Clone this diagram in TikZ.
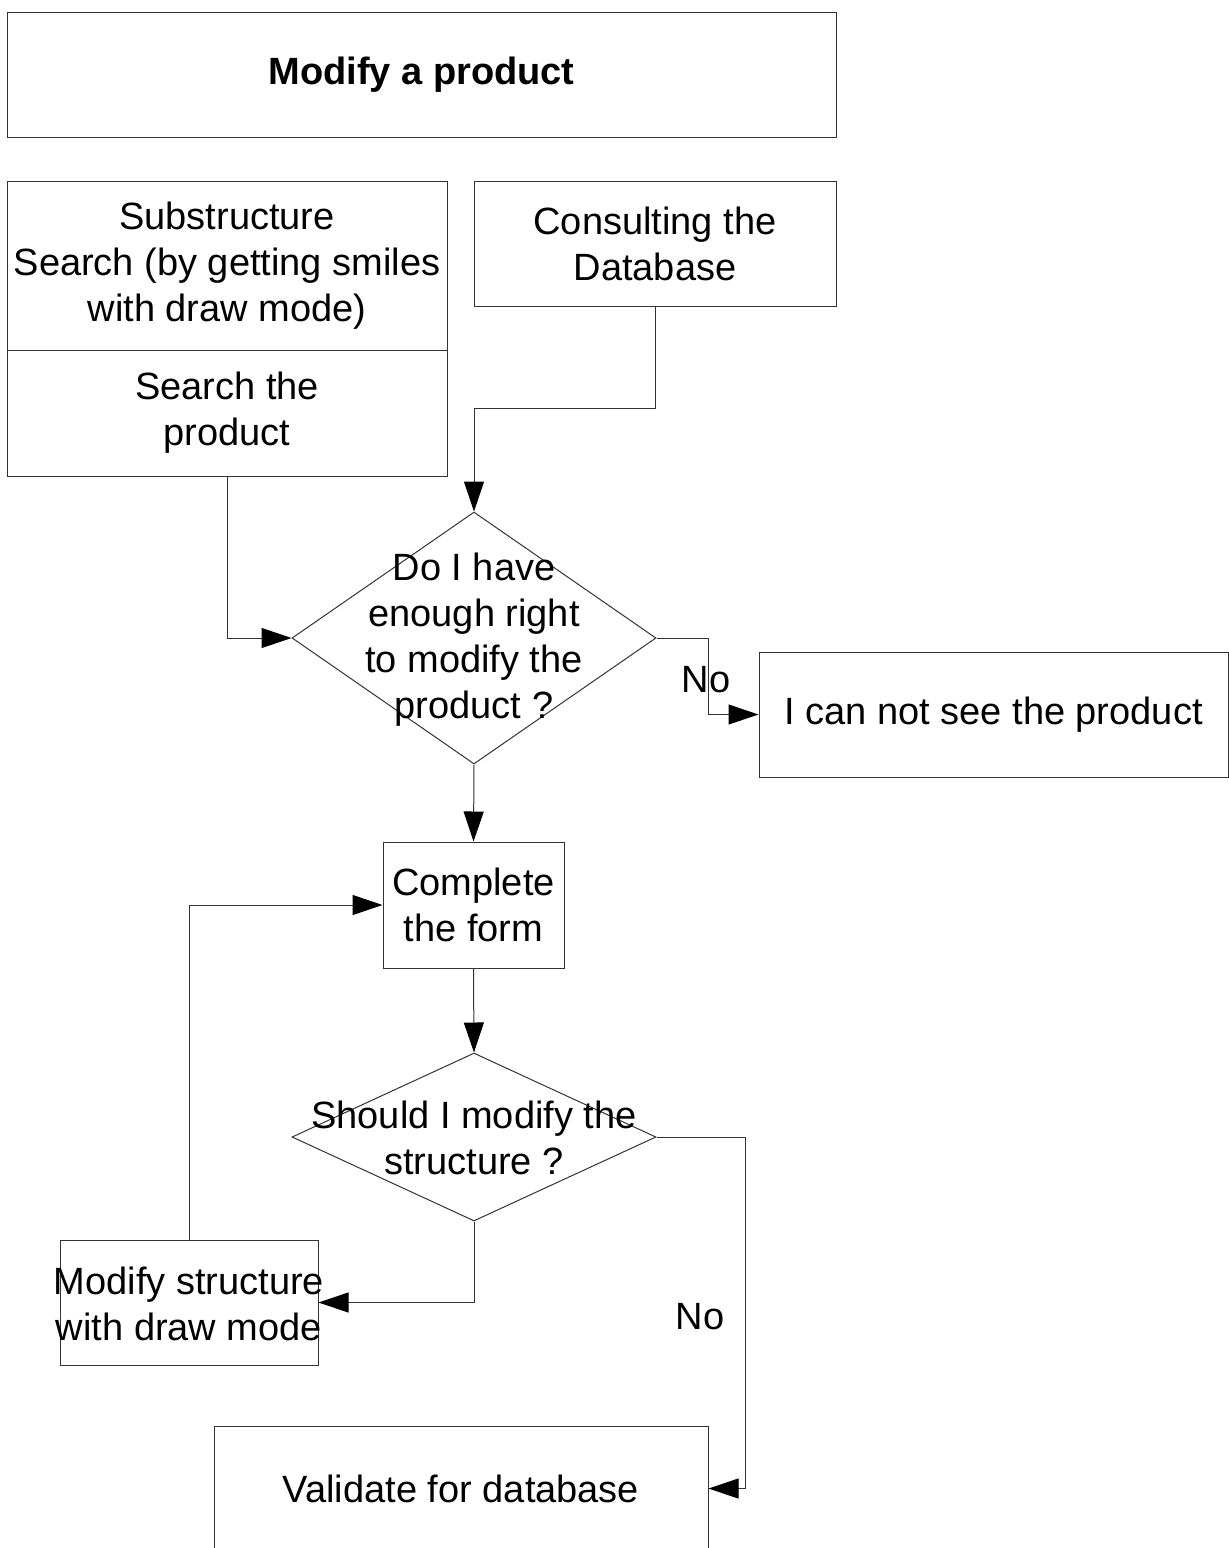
\documentclass[tikz,border=0pt]{standalone}
\usepackage{fontspec}
\setmainfont{Liberation Sans}
\usetikzlibrary{shapes.geometric, arrows.meta}

\begin{document}
\begin{tikzpicture}
  [x=0.5pt, y=-0.5pt,
  font=\fontsize{19}{23}\selectfont,
  block/.style={rectangle, draw=black!80, line width=0.5pt,
  align=center, inner sep=0pt},
  decision/.style={diamond, draw=black!80, line width=0.5pt,
  inner sep=0pt, minimum width=182pt},
  line/.style={draw, black!80, line width=0.5pt,
  -{Triangle[length=15pt, width=10pt, black]}}]

  \useasboundingbox (0,0) rectangle (1229,1548);

  \node [block, minimum width=414.5pt, minimum height=62.5pt,
    font=\fontsize{19}{23}\selectfont\bfseries] (title) at (421.5,74.5) {Modify a product};
  \node [block, minimum width=220pt, minimum height=84.5pt] (subst) at (227,265.5)
    {Substructure\\Search (by getting smiles\\with draw mode)};
  \node [block, minimum width=220pt, minimum height=63pt] (search) at (227,413)
    {Search the\\product};
  \node [block, minimum width=181pt, minimum height=62.5pt] (consult) at (655,243.5)
    {Consulting the\\Database};

  \node [decision, minimum height=126pt] (rights) at (474,638) {};
  \node [align=center] (rightstext) at (474,640)
    {Do I have\\enough right\\to modify the\\product ?};
  \node [block, minimum width=234.5pt, minimum height=62.5pt] (notsee) at (993.5,714.5)
    {I can not see the product};
  \node (no1) at (706,680) {No};

  \node [block, minimum width=90.5pt, minimum height=63pt] (complete) at (473.5,905)
    {Complete\\the form};
  \node [decision, minimum height=84pt] (should) at (474,1137) {};
  \node [align=center] (shouldtext) at (474,1138)
    {Should I modify the\\structure ?};
  \node [block, minimum width=129pt, minimum height=62.5pt] (modify) at (189,1302.5) {};
  \node [align=center, inner sep=0pt] (modifytext) at (189,1304)
    {Modify structure\\with draw mode};
  \node (no2) at (700,1317) {No};
  \node [block, minimum width=247pt, minimum height=62.5pt] (validate) at (461,1488.5)
    {Validate for database};

  \begin{scope}[every path/.style=line]
    \path (consult.south) -- ++(0,102) -| (rights.north);
    \path (search.south) |- (rights.west);
    \path (rights.east) -- ++(52,0) |- (notsee.west);
    \path (rights.south) -- (complete.north);
    \path (complete.south) -- (should.north);
    \path (should.south) |- (modify.east);
    \path (modify.north) |- (complete.west);
    \path (should.east) -- ++(89,0) |- (validate.east);
  \end{scope}
\end{tikzpicture}
\end{document}
